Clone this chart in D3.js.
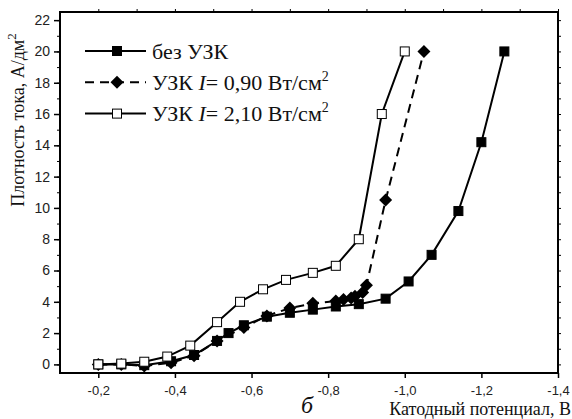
<!DOCTYPE html>
<html lang="ru">
<head>
  <meta charset="UTF-8">
  <title>Плотность тока</title>
  <style>
    body { margin: 0; padding: 0; background: #fff; }
    svg { display: block; }
    .tick text { font-family: 'Liberation Sans', Arial, sans-serif; font-size: 14px; fill: #222; }
    .xax .tick text { font-size: 13px; }
  </style>
</head>
<body>
  <div id="chart"></div>

  <script src="https://d3js.org/d3.v7.min.js"></script>
  <script>
    // Катодный потенциал, В (по сериям)
    const xBez = [-0.2, -0.26, -0.32, -0.39, -0.45, -0.51, -0.54, -0.58, -0.64, -0.70, -0.76, -0.82, -0.88, -0.95, -1.01, -1.07, -1.14, -1.20, -1.26];
    const yBez = [0, 0, -0.05, 0.2, 0.6, 1.5, 2.0, 2.5, 3.05, 3.3, 3.5, 3.7, 3.85, 4.2, 5.3, 7.0, 9.8, 14.2, 20.0];

    const xU090 = [-0.2, -0.26, -0.32, -0.39, -0.45, -0.51, -0.58, -0.64, -0.70, -0.76, -0.82, -0.84, -0.86, -0.87, -0.89, -0.90, -0.95, -1.05];
    const yU090 = [0, 0, -0.1, 0.1, 0.55, 1.5, 2.35, 3.1, 3.6, 3.9, 4.05, 4.15, 4.25, 4.35, 4.6, 5.05, 10.5, 20.0];

    const xU210 = [-0.2, -0.26, -0.32, -0.38, -0.44, -0.51, -0.57, -0.63, -0.69, -0.76, -0.82, -0.88, -0.94, -1.0];
    const yU210 = [0, 0.05, 0.17, 0.5, 1.2, 2.7, 4.0, 4.8, 5.4, 5.85, 6.3, 8.0, 16.0, 20.0];

    const xTicks = [-0.2, -0.4, -0.6, -0.8, -1.0, -1.2, -1.4];
    const yTicks = [0, 2, 4, 6, 8, 10, 12, 14, 16, 18, 20, 22];

    const W = 572, H = 419;
    const margin = { top: 12, right: 14, bottom: 46, left: 60 };
    const SERIF = "'Liberation Serif', 'DejaVu Serif', 'Times New Roman', serif";

    const svg = d3.select('#chart').append('svg')
      .attr('width', W).attr('height', H);

    const x = d3.scaleLinear().domain([-0.1, -1.4]).range([margin.left, W - margin.right]);
    const y = d3.scaleLinear().domain([-0.55, 22.52]).range([H - margin.bottom, margin.top]);

    const fmt = d => d3.format('.1f')(d).replace('.', ',').replace('−', '-');

    // оси
    svg.append('g')
      .attr('class', 'xax')
      .attr('transform', `translate(0,${y.range()[0]})`)
      .call(d3.axisBottom(x).tickValues(xTicks).tickSize(5).tickPadding(8).tickFormat(fmt))
      .call(g => g.select('.domain').remove())
      .call(g => g.selectAll('.tick line').attr('stroke-width', 1.5));

    svg.append('g')
      .attr('transform', `translate(${x.range()[0]},0)`)
      .call(d3.axisLeft(y).tickValues(d3.range(0, 23, 1)).tickSize(3).tickFormat(''))
      .call(g => g.select('.domain').remove());

    svg.append('g')
      .attr('transform', `translate(${x.range()[0]},0)`)
      .call(d3.axisLeft(y).tickValues(yTicks).tickSize(6).tickPadding(4))
      .call(g => g.select('.domain').remove())
      .call(g => g.selectAll('.tick line').attr('stroke-width', 1.5));

    // зеркальные засечки сверху и справа
    svg.append('g')
      .attr('transform', `translate(0,${y.range()[1]})`)
      .call(d3.axisTop(x).tickValues(d3.range(-0.2, -1.41, -0.1)).tickSize(3).tickFormat(''))
      .call(g => g.select('.domain').remove());

    svg.append('g')
      .attr('transform', `translate(${x.range()[1]},0)`)
      .call(d3.axisRight(y).tickValues(d3.range(0, 23, 1)).tickSize(3).tickFormat(''))
      .call(g => g.select('.domain').remove());

    // рамка
    svg.append('rect')
      .attr('x', x.range()[0]).attr('y', y.range()[1])
      .attr('width', x.range()[1] - x.range()[0])
      .attr('height', y.range()[0] - y.range()[1])
      .attr('fill', 'none').attr('stroke', '#000').attr('stroke-width', 2);

    const line = d3.line().x(d => x(d[0])).y(d => y(d[1]));
    const series = [
      { xs: xBez, ys: yBez, dash: null, marker: 'square', fill: '#000' },
      { xs: xU090, ys: yU090, dash: '9,6', marker: 'diamond', fill: '#000' },
      { xs: xU210, ys: yU210, dash: null, marker: 'square', fill: '#fff' }
    ];

    function drawMarker(g, kind, fill, cx, cy) {
      if (kind === 'square') {
        g.append('rect')
          .attr('x', cx - 4.5).attr('y', cy - 4.5)
          .attr('width', 9).attr('height', 9)
          .attr('fill', fill).attr('stroke', '#000').attr('stroke-width', 1);
      } else {
        g.append('path')
          .attr('d', `M${cx},${cy - 6.5}L${cx + 6.5},${cy}L${cx},${cy + 6.5}L${cx - 6.5},${cy}Z`)
          .attr('fill', fill);
      }
    }

    series.forEach(s => {
      const pts = s.xs.map((v, i) => [v, s.ys[i]]);
      const g = svg.append('g');
      g.append('path')
        .datum(pts)
        .attr('d', line)
        .attr('fill', 'none')
        .attr('stroke', '#000')
        .attr('stroke-width', 2)
        .attr('stroke-dasharray', s.dash);
      pts.forEach(p => drawMarker(g, s.marker, s.fill, x(p[0]), y(p[1])));
    });

    // легенда
    const legendRows = [
      { s: series[0], label: ['без УЗК'] },
      { s: series[1], label: ['УЗК ', 'I', '= 0,90 Вт/см', '2'] },
      { s: series[2], label: ['УЗК ', 'I', '= 2,10 Вт/см', '2'] }
    ];
    legendRows.forEach((r, i) => {
      const ly = 51 + i * 31.3;
      const g = svg.append('g');
      g.append('line')
        .attr('x1', 85).attr('x2', 146).attr('y1', ly).attr('y2', ly)
        .attr('stroke', '#000').attr('stroke-width', 2)
        .attr('stroke-dasharray', r.s.dash);
      drawMarker(g, r.s.marker, r.s.fill, 117, ly);
      const t = g.append('text')
        .attr('font-family', SERIF).attr('fill', '#111')
        .attr('x', 152).attr('y', ly + 7.5)
        .attr('font-size', 22);
      if (r.label.length === 1) {
        t.text(r.label[0]);
      } else {
        t.append('tspan').text(r.label[0]);
        t.append('tspan').attr('font-style', 'italic').text(r.label[1]);
        t.append('tspan').text(r.label[2]);
        t.append('tspan').attr('font-size', 14).attr('dy', -9).text(r.label[3]);
      }
    });

    // подписи осей
    const yl = svg.append('text')
      .attr('font-family', SERIF).attr('fill', '#111')
      .attr('transform', 'translate(24,120) rotate(-90)')
      .attr('text-anchor', 'middle')
      .attr('font-size', 18);
    yl.append('tspan').text('Плотность тока, А/дм');
    yl.append('tspan').attr('font-size', 13).attr('dy', -8).text('2');

    svg.append('text')
      .attr('font-family', SERIF).attr('fill', '#111')
      .attr('x', 571).attr('y', 415)
      .attr('text-anchor', 'end')
      .attr('font-size', 18)
      .text('Катодный потенциал, В');

    svg.append('text')
      .attr('font-family', SERIF).attr('fill', '#111')
      .attr('x', 307).attr('y', 413)
      .attr('text-anchor', 'middle')
      .attr('font-size', 24)
      .attr('font-style', 'italic')
      .text('б');
  </script>
</body>
</html>
